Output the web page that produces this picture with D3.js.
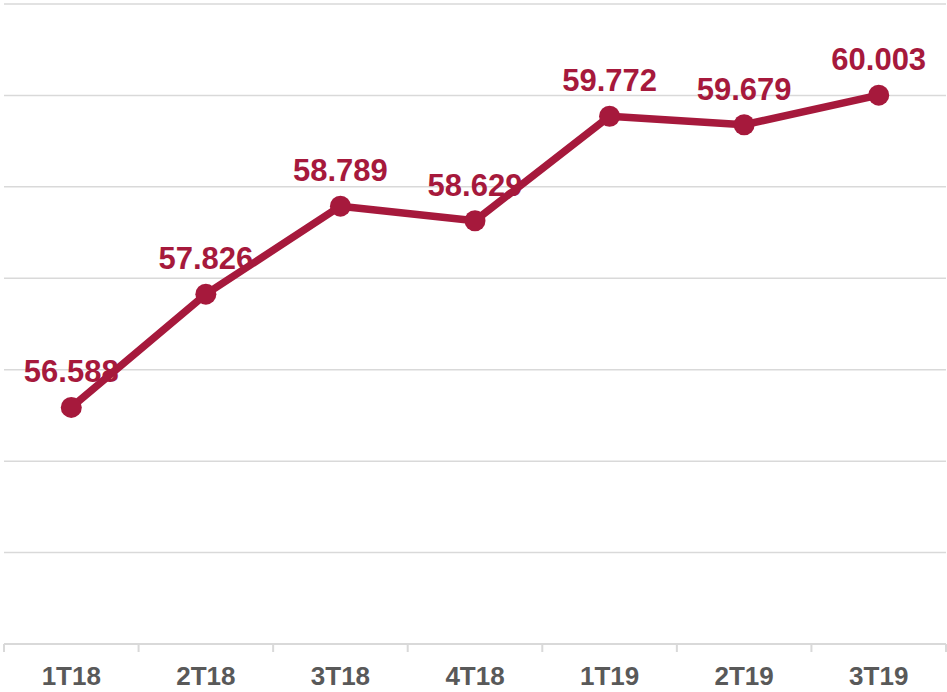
<!DOCTYPE html>
<html>
<head>
<meta charset="utf-8">
<script src="https://cdn.jsdelivr.net/npm/d3@7"></script>
<style>
  html, body { margin: 0; padding: 0; background: #fff; }
  svg { display: block; font-family: "Liberation Sans", Arial, sans-serif; }
</style>
</head>
<body>
<svg id="chart"></svg>
<script>
// ── data ───────────────────────────────────────────────────────────────
const categories = ["1T18", "2T18", "3T18", "4T18", "1T19", "2T19", "3T19"];
const values     = [56.588, 57.826, 58.789, 58.629, 59.772, 59.679, 60.003];
const yTicks     = [54, 55, 56, 57, 58, 59, 60, 61];

// ── geometry ───────────────────────────────────────────────────────────
const W = 947, H = 692;
const margin = { top: 4, right: 1, bottom: 48, left: 4 };
const innerW = W - margin.left - margin.right;
const innerH = H - margin.top - margin.bottom;

const color = "#a6193c";

const svg = d3.select("#chart").attr("width", W).attr("height", H);
const g = svg.append("g").attr("transform", `translate(${margin.left},${margin.top})`);

const x = d3.scaleBand().domain(categories).range([0, innerW]).padding(0);
const y = d3.scaleLinear().domain([54, 61]).range([innerH, 0]);

// grid lines
g.selectAll(".grid")
    .data(yTicks.slice(1))
    .enter().append("line")
    .attr("class", "grid")
    .attr("x1", 0).attr("x2", innerW)
    .attr("y1", d => y(d)).attr("y2", d => y(d))
    .attr("stroke", "#d9d9d9")
    .attr("stroke-width", 1.5);

// x axis
const xAxisG = g.append("g")
    .attr("transform", `translate(0,${innerH})`)
    .call(d3.axisBottom(x).tickSize(0).tickPadding(23));
xAxisG.select(".domain").remove();
xAxisG.selectAll("text")
    .attr("fill", "#595959")
    .style("font-size", "26px")
    .style("font-weight", "bold");

xAxisG.append("line")
    .attr("x1", 0).attr("x2", innerW)
    .attr("stroke", "#d9d9d9").attr("stroke-width", 2);

const bounds = categories.map(c => x(c)).concat([innerW]);
xAxisG.selectAll(".sep")
    .data(bounds)
    .enter().append("line")
    .attr("class", "sep")
    .attr("x1", d => d).attr("x2", d => d)
    .attr("y1", 0).attr("y2", 8)
    .attr("stroke", "#d9d9d9").attr("stroke-width", 2);

// line
const cx = c => x(c) + x.bandwidth() / 2;
const line = d3.line()
    .x((d, i) => cx(categories[i]))
    .y(d => y(d));

g.append("path")
    .datum(values)
    .attr("d", line)
    .attr("fill", "none")
    .attr("stroke", color)
    .attr("stroke-width", 7.5)
    .attr("stroke-linejoin", "round");

g.selectAll(".dot")
    .data(values)
    .enter().append("circle")
    .attr("class", "dot")
    .attr("cx", (d, i) => cx(categories[i]))
    .attr("cy", d => y(d))
    .attr("r", 10.5)
    .attr("fill", color);

// value labels
g.selectAll(".val")
    .data(values)
    .enter().append("text")
    .attr("class", "val")
    .attr("x", (d, i) => cx(categories[i]))
    .attr("y", d => y(d) - 25)
    .attr("text-anchor", "middle")
    .attr("fill", color)
    .style("font-size", "31px")
    .style("font-weight", "bold")
    .text(d => d.toFixed(3));
</script>
</body>
</html>
